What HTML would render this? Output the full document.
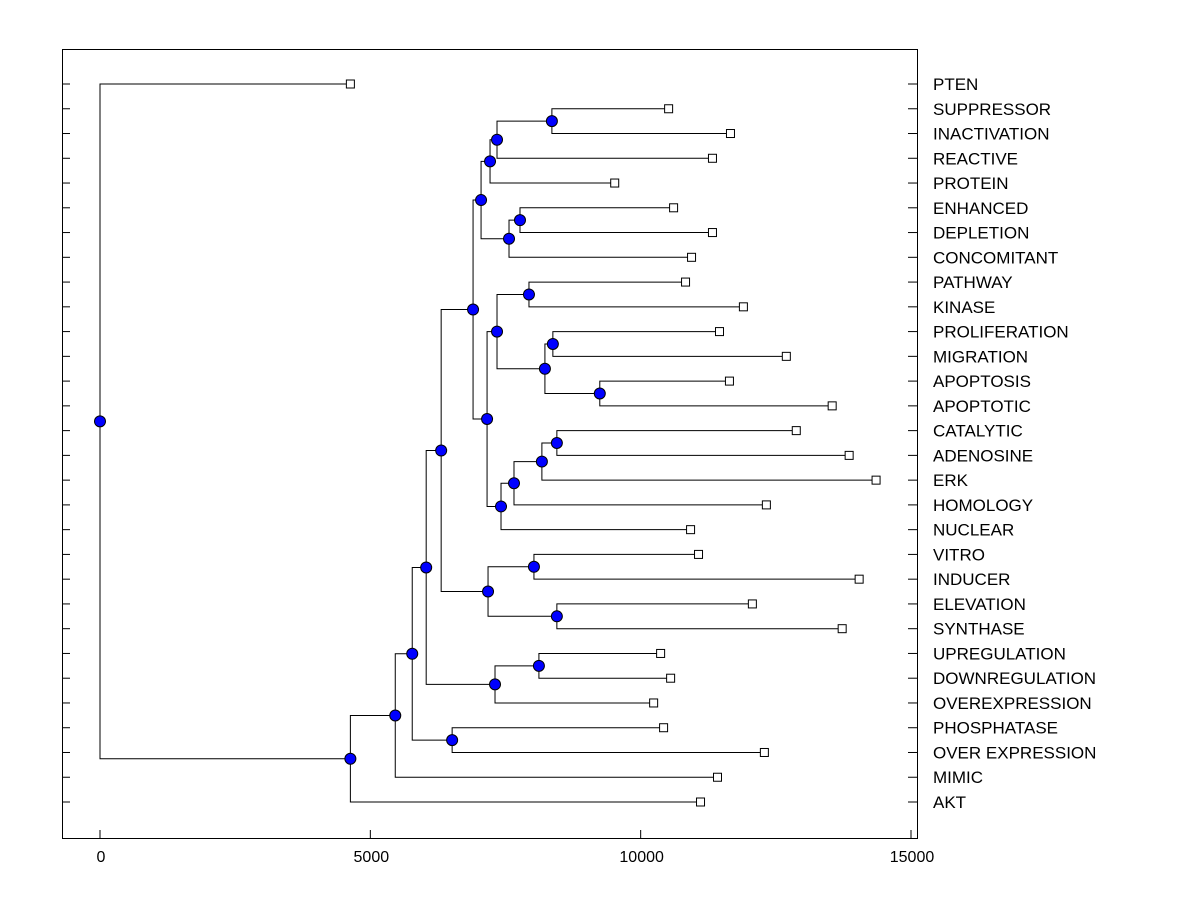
<!DOCTYPE html>
<html><head><meta charset="utf-8"><style>
html,body{margin:0;padding:0;background:#fff;}
svg{display:block;font-family:"Liberation Sans",Arial,sans-serif;}
</style></head><body>
<svg id="chart" width="1200" height="900" viewBox="0 0 1200 900">
<rect x="0" y="0" width="1200" height="900" fill="#fff"/>
<g id="g"></g>
</svg>
<script>
const leafNames = ["PTEN","SUPPRESSOR","INACTIVATION","REACTIVE","PROTEIN","ENHANCED","DEPLETION","CONCOMITANT","PATHWAY","KINASE","PROLIFERATION","MIGRATION","APOPTOSIS","APOPTOTIC","CATALYTIC","ADENOSINE","ERK","HOMOLOGY","NUCLEAR","VITRO","INDUCER","ELEVATION","SYNTHASE","UPREGULATION","DOWNREGULATION","OVEREXPRESSION","PHOSPHATASE","OVER EXPRESSION","MIMIC","AKT"];
const leafHeights = [4631,10517,11661,11328,9520,10609,11328,10941,10830,11900,11458,12694,11642,13542,12878,13856,14354,12325,10923,11070,14041,12066,13727,10369,10554,10240,10424,12288,11421,11107];
const mergeHeight = [8358,7343,7214,7768,7565,7048,7934,8376,9244,8229,7343,8450,8173,7657,7417,7159,6900,8026,8450,7177,6310,8118,7306,6033,6513,5775,5461,4631,0];
const xTicks = [0,5000,10000,15000];
const mergeChildren = [
 ["SUPPRESSOR","INACTIVATION"],
 ["R","REACTIVE"],
 ["Q","PROTEIN"],
 ["ENHANCED","DEPLETION"],
 ["S","CONCOMITANT"],
 ["O","P"],
 ["PATHWAY","KINASE"],
 ["PROLIFERATION","MIGRATION"],
 ["APOPTOSIS","APOPTOTIC"],
 ["X","Y"],
 ["V","W"],
 ["CATALYTIC","ADENOSINE"],
 ["AB","ERK"],
 ["AA","HOMOLOGY"],
 ["Z","NUCLEAR"],
 ["T","U"],
 ["M","N"],
 ["VITRO","INDUCER"],
 ["ELEVATION","SYNTHASE"],
 ["K","L"],
 ["I","J"],
 ["UPREGULATION","DOWNREGULATION"],
 ["H","OVEREXPRESSION"],
 ["F","G"],
 ["PHOSPHATASE","OVER EXPRESSION"],
 ["D","E"],
 ["C","MIMIC"],
 ["B","AKT"],
 ["PTEN","A"]
];
const mergeNames = ["R","Q","O","S","P","M","V","X","Y","W","T","AB","AA","Z","U","N","I","K","L","J","F","H","G","D","E","C","B","A","ROOT"];

const NS="http://www.w3.org/2000/svg";
const g=document.getElementById('g');
const x0=100, x1=911;
const xs=v=>x0+(v/15000)*(x1-x0);
const yTop=84, yStep=(802-84)/29;
const ys=i=>yTop+i*yStep;
function mk(t,a){const e=document.createElementNS(NS,t);for(const k in a)e.setAttribute(k,a[k]);g.appendChild(e);return e;}

let fr=mk('rect',{x:62.5,y:49.5,width:855,height:789,fill:'none',stroke:'#000','stroke-width':1});



const pos={};
leafNames.forEach((n,i)=>{pos[n]={x:xs(leafHeights[i]),y:ys(i),leaf:true};});
mergeNames.forEach((n,i)=>{
  const a=pos[mergeChildren[i][0]], b=pos[mergeChildren[i][1]];
  pos[n]={x:xs(mergeHeight[i]),y:(a.y+b.y)/2,leaf:false};
});
mergeNames.forEach((n,i)=>{
  const p=pos[n];
  const a=pos[mergeChildren[i][0]], b=pos[mergeChildren[i][1]];
  const ax=a.leaf?a.x-4:a.x, bx=b.leaf?b.x-4:b.x;
  const path=mk('path',{d:`M${ax},${a.y}H${p.x}V${b.y}H${bx}`,fill:'none',stroke:'#000','stroke-width':1});
  
  
});
mergeNames.forEach((n,i)=>{
  const p=pos[n];
  const c=mk('circle',{cx:p.x,cy:p.y,r:5.5,fill:'#0000ff',stroke:'#000','stroke-width':1});
  
  
});
leafNames.forEach((n,i)=>{
  const p=pos[n], slug=n.toLowerCase().replace(/ /g,'-');
  const s=mk('rect',{x:p.x-4,y:p.y-4,width:8,height:8,fill:'#fff',stroke:'#000','stroke-width':1});
  
  
  const t1=mk('line',{x1:62,x2:70,y1:p.y,y2:p.y,stroke:'#000'});
  
  
  const t2=mk('line',{x1:908,x2:917,y1:p.y,y2:p.y,stroke:'#000'});
  
  
  const tx=mk('text',{x:933,y:p.y+6,'font-size':17,fill:'#000'});
  tx.textContent=n;
  
  
});
xTicks.forEach(v=>{
  const t=mk('line',{x1:xs(v),x2:xs(v),y1:830,y2:838,stroke:'#000'});
  
  
  const tx=mk('text',{x:xs(v)+1,y:862,'font-size':16,'text-anchor':'middle',fill:'#000'});
  tx.textContent=v;
  
  
});
</script>
</body></html>
